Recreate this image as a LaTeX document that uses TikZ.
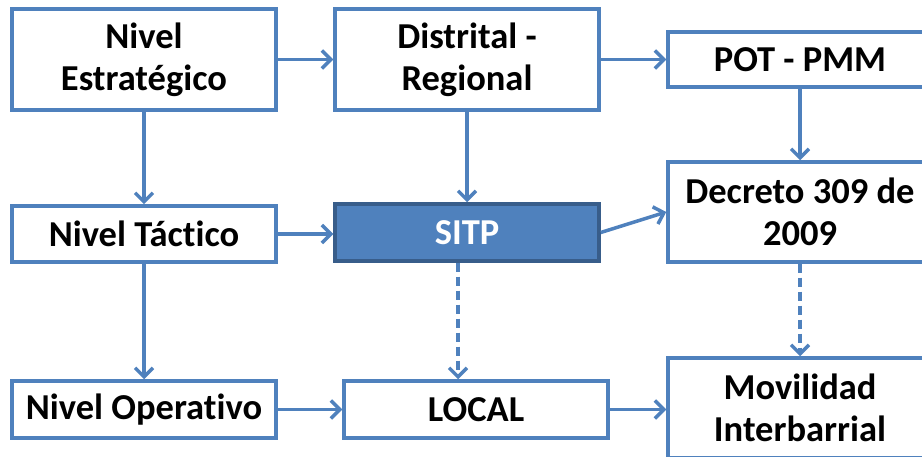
\documentclass[tikz,border=0pt]{standalone}
\usepackage{fontspec}
\setmainfont[Ligatures=NoCommon]{Carlito}
\usetikzlibrary{arrows.meta,positioning}
\definecolor{lineblue}{HTML}{4F81BD}
\definecolor{darkblue}{HTML}{385D8A}
\tikzset{
  box/.style={draw=lineblue, line width=3.5pt, fill=white, minimum width=264pt,
    inner sep=0pt, align=center, font=\fontsize{36.5}{42}\selectfont\bfseries, text=black},
  hibox/.style={box, draw=darkblue, fill=lineblue, text=white},
  conn/.style={draw=lineblue, line width=3.5pt, -{Straight Barb[length=9pt,width=18pt,line width=3.5pt]}},
  dconn/.style={conn, dash pattern=on 9pt off 5pt}
}
\begin{document}
\begin{tikzpicture}[x=1pt,y=-1pt]
\useasboundingbox (0,0) rectangle (922,457);
\clip (0,0) rectangle (922,457);
\node[box, minimum height=101pt] (est) at (144,59.5) {Nivel\\Estratégico};
\node[box, minimum height=101pt] (dis) at (467,59.5) {Distrital -\\Regional};
\node[box, minimum height=55pt] (pot) at (800,59.5) {POT - PMM};
\node[box, minimum height=56pt] (tac) at (144,234) {Nivel Táctico};
\node[hibox, minimum height=57pt] (sitp) at (467,232.5) {SITP};
\node[box, minimum height=100pt] (dec) at (800,212) {Decreto 309 de\\2009};
\node[box, minimum height=57pt] (ope) at (144,409.5) {Nivel Operativo};
\node[box, minimum height=57pt] (loc) at (476,409.5) {LOCAL};
\node[box, minimum height=100pt] (mov) at (800,408) {Movilidad\\Interbarrial};

\draw[conn] (est) -- (dis);
\draw[conn] (dis) -- (pot);
\draw[conn] (est) -- (tac);
\draw[conn] (dis) -- (sitp);
\draw[conn] (pot) -- (dec);
\draw[conn] (tac.east) -- (sitp.west |- tac.east);
\draw[conn] (sitp.east) -- (dec.west);
\draw[conn] (tac) -- (ope);
\draw[dconn] ([xshift=-9pt]sitp.south) -- ([xshift=-9pt]sitp.south |- loc.north);
\draw[conn] (ope) -- (loc);
\draw[conn] (loc.east) -- (mov.west |- loc.east);
\draw[dconn] (dec) -- (mov);
\end{tikzpicture}
\end{document}
